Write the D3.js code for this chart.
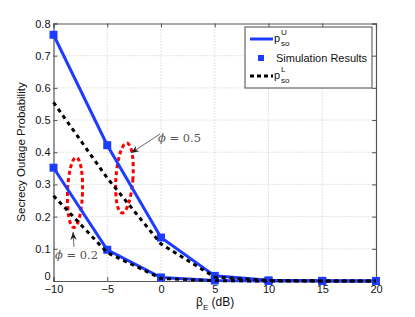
<!DOCTYPE html>
<html><head><meta charset="utf-8">
<script src="https://cdn.jsdelivr.net/npm/d3@7"></script>
<style>body{margin:0;background:#fff;} text{font-family:"Liberation Sans",Arial,sans-serif;}</style>
</head><body>
<svg id="c" width="415" height="317"></svg>
<script>
const betaE = [-10, -5, 0, 5, 10, 15, 20];
const upperPhi05 = [0.765, 0.422, 0.135, 0.016, 0.002, 0.0005, 0.0002];
const upperPhi02 = [0.352, 0.097, 0.011, 0.0015, 0.0001, 0, 0];
const lowerPhi05 = [0.555, 0.32, 0.115, 0.012, 0.0015, 0.0002, 0];
const lowerPhi02 = [0.265, 0.088, 0.008, 0.0008, 0.0001, 0, 0];
const xTicks = [-10, -5, 0, 5, 10, 15, 20];
const yTicks = [0, 0.1, 0.2, 0.3, 0.4, 0.5, 0.6, 0.7, 0.8];

const svg = d3.select("#c");
const L = 53.5, R = 376, T = 23.5, B = 281;
const x = d3.scaleLinear().domain([-10, 20]).range([L, R]);
const y = d3.scaleLinear().domain([0, 0.8]).range([B, T]);
const blue = "#1e3cff";

// grid
svg.append("g").selectAll("line").data(xTicks.slice(1, -1)).join("line")
  .attr("x1", d => x(d)).attr("x2", d => x(d)).attr("y1", T).attr("y2", B)
  .attr("stroke", "#bbb").attr("stroke-width", 0.8).attr("stroke-dasharray", "1,2");
svg.append("g").selectAll("line").data(yTicks.slice(1, -1)).join("line")
  .attr("y1", d => y(d)).attr("y2", d => y(d)).attr("x1", L).attr("x2", R)
  .attr("stroke", "#bbb").attr("stroke-width", 0.8).attr("stroke-dasharray", "1,2");

// axes
const fmtX = d => d < 0 ? "\u2212" + Math.abs(d) : String(d);
const xAxis = svg.append("g").attr("transform", `translate(0,${B})`)
  .call(d3.axisBottom(x).tickValues(xTicks).tickFormat(fmtX).tickSize(-4).tickPadding(4));
const yAxis = svg.append("g").attr("transform", `translate(${L},0)`)
  .call(d3.axisLeft(y).tickValues(yTicks).tickFormat(d => d === 0 ? "0" : d3.format(".1f")(d)).tickSize(-4).tickPadding(3));
const xAxisTop = svg.append("g").attr("transform", `translate(0,${T})`)
  .call(d3.axisTop(x).tickValues(xTicks).tickFormat("").tickSize(-4));
const yAxisR = svg.append("g").attr("transform", `translate(${R},0)`)
  .call(d3.axisRight(y).tickValues(yTicks).tickFormat("").tickSize(-4));
[xAxis, yAxis, xAxisTop, yAxisR].forEach(g => {
  g.select(".domain").attr("stroke", "#555").attr("stroke-width", 1.2);
  g.selectAll(".tick line").attr("stroke", "#555");
  g.selectAll("text").attr("font-size", 11).attr("fill", "#111").attr("font-family", "Liberation Sans, Arial, sans-serif");
});
yAxis.selectAll(".tick text").filter(d => d === 0).attr("dy", "-0.1em");

// red ellipses
function ell(cx, cy, rx, ry, rot) {
  svg.append("ellipse").attr("cx", cx).attr("cy", cy).attr("rx", rx).attr("ry", ry)
    .attr("transform", `rotate(${rot},${cx},${cy})`)
    .attr("fill", "none").attr("stroke", "#ff0000").attr("stroke-width", 3).attr("stroke-dasharray", "4,3");
}
ell(x(-3.4), y(0.32), 8.5, 35, 4);
ell(x(-8.0), y(0.275), 7.5, 35, 2);

// lines
const line = d3.line().x((d, i) => x(betaE[i])).y(d => y(d));
function drawLine(data, color, dash) {
  svg.append("path").datum(data).attr("d", line).attr("fill", "none")
    .attr("stroke", color).attr("stroke-width", 3).attr("stroke-dasharray", dash || null);
}
drawLine(upperPhi05, blue);
drawLine(upperPhi02, blue);
function drawMarks(data) {
  svg.append("g").selectAll("rect").data(data).join("rect")
    .attr("x", (d, i) => x(betaE[i]) - 4).attr("y", d => y(d) - 4)
    .attr("width", 8).attr("height", 8).attr("fill", blue);
}
drawMarks(upperPhi05);
drawMarks(upperPhi02);
drawLine(lowerPhi05, "#000", "4,4");
drawLine(lowerPhi02, "#000", "4,4");

// annotations
svg.append("defs").append("marker").attr("id", "ah").attr("viewBox", "0 0 10 10")
  .attr("refX", 10).attr("refY", 5).attr("markerWidth", 8).attr("markerHeight", 8)
  .attr("orient", "auto").attr("markerUnits", "userSpaceOnUse")
  .append("path").attr("d", "M0,1 L10,5 L0,9 L3,5 Z").attr("fill", "#222");
svg.append("line").attr("x1", 160).attr("y1", 134).attr("x2", 131).attr("y2", 153)
  .attr("stroke", "#444").attr("stroke-width", 0.8).attr("marker-end", "url(#ah)");
svg.append("line").attr("x1", 74).attr("y1", 247).attr("x2", 73).attr("y2", 232)
  .attr("stroke", "#444").attr("stroke-width", 0.8).attr("marker-end", "url(#ah)");
function phiText(tx, ty, val) {
  const t = svg.append("text").attr("x", tx).attr("y", ty).attr("font-size", 11.5)
    .attr("fill", "#555").style("font-family", "DejaVu Serif, Liberation Serif, serif");
  t.append("tspan").attr("font-style", "italic").text("\u03D5");
  t.append("tspan").text(" = " + val);
}
phiText(158, 142, "0.5");
phiText(55, 259, "0.2");

// axis labels
const xl = svg.append("text").attr("x", 196).attr("y", 306).attr("font-size", 12).attr("fill", "#111");
xl.append("tspan").text("\u03B2");
xl.append("tspan").attr("font-size", 8).attr("dy", 4).text("E");
xl.append("tspan").attr("dy", -4).text(" (dB)");
svg.append("text").attr("transform", "translate(25,152) rotate(-90)").attr("text-anchor", "middle")
  .attr("font-size", 11.5).attr("fill", "#111").text("Secrecy Outage Probability");

// legend
const lg = svg.append("g");
lg.append("rect").attr("x", 245).attr("y", 27).attr("width", 127).attr("height", 61)
  .attr("fill", "#fff").attr("stroke", "#666").attr("stroke-width", 1.2);
lg.append("line").attr("x1", 250).attr("x2", 273).attr("y1", 39).attr("y2", 39).attr("stroke", blue).attr("stroke-width", 3);
lg.append("rect").attr("x", 258).attr("y", 55).attr("width", 6).attr("height", 6).attr("fill", blue);
lg.append("line").attr("x1", 250).attr("x2", 273).attr("y1", 76).attr("y2", 76).attr("stroke", "#000").attr("stroke-width", 3).attr("stroke-dasharray", "4,3");
function pLabel(ly, sup) {
  lg.append("text").attr("x", 274).attr("y", ly).attr("font-size", 11).attr("fill", "#111").text("p");
  lg.append("text").attr("x", 281).attr("y", ly - 7).attr("font-size", 8).attr("fill", "#111").text(sup);
  lg.append("text").attr("x", 281).attr("y", ly + 4).attr("font-size", 8).attr("fill", "#111").text("so");
}
pLabel(42, "U");
pLabel(79, "L");
lg.append("text").attr("x", 276).attr("y", 62).attr("font-size", 11).attr("fill", "#111").text("Simulation Results");
</script>
</body></html>
